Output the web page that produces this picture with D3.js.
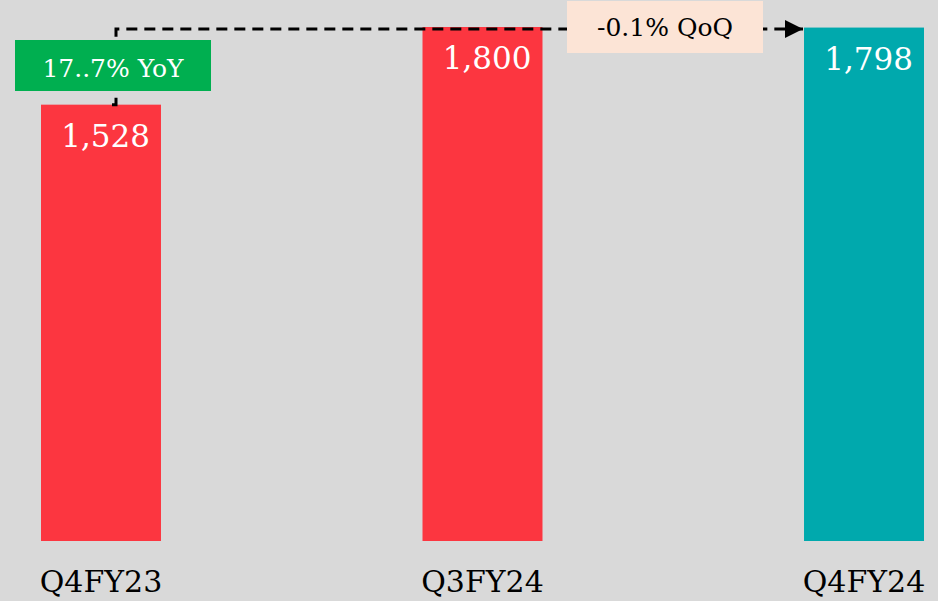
<!DOCTYPE html>
<html>
<head>
<meta charset="utf-8">
<script src="https://cdn.jsdelivr.net/npm/d3@7"></script>
<style>
  html, body { margin: 0; padding: 0; background: #d9d9d9; }
  svg { display: block; font-family: "DejaVu Serif", serif; }
</style>
</head>
<body>
<div id="chart"></div>
<script>
//Chart data
var categories = ["Q4FY23", "Q3FY24", "Q4FY24"];
var values = [1528, 1800, 1798];
var barColors = ["#fc3640", "#fc3640", "#00a9ad"];

//Growth callouts
var yoyLabel = "17..7% YoY";
var qoqLabel = "-0.1% QoQ";

var width = 938, height = 601;

var svg = d3.select("#chart").append("svg")
  .attr("width", width)
  .attr("height", height);

svg.append("rect").attr("width", width).attr("height", height).attr("fill", "#d9d9d9");

//Scales
var x = d3.scaleBand()
  .domain(categories)
  .range([41, 924])
  .paddingInner(0.6855)
  .paddingOuter(0);

var y = d3.scaleLinear()
  .domain([0, 1800])
  .range([541, 27]);

var data = categories.map(function(c, i) { return {cat: c, val: values[i], color: barColors[i]}; });

//Bars
svg.selectAll(".bar").data(data).enter().append("rect")
  .attr("class", "bar")
  .attr("x", function(d) { return x(d.cat); })
  .attr("y", function(d) { return y(d.val); })
  .attr("width", x.bandwidth())
  .attr("height", function(d) { return y(0) - y(d.val); })
  .attr("fill", function(d) { return d.color; });

//Value labels inside the bars (right aligned)
svg.selectAll(".val").data(data).enter().append("text")
  .attr("class", "val")
  .attr("x", function(d) { return x(d.cat) + x.bandwidth() - 11; })
  .attr("y", function(d) { return y(d.val) + 42; })
  .attr("text-anchor", "end")
  .attr("fill", "#ffffff")
  .attr("font-size", 31)
  .text(function(d) { return d3.format(",")(d.val); });

//Category axis (labels only)
var xAxis = svg.append("g")
  .attr("transform", "translate(0," + y(0) + ")")
  .call(d3.axisBottom(x).tickSize(0).tickPadding(0));
xAxis.select(".domain").remove();
xAxis.selectAll("text")
  .attr("dy", null)
  .attr("y", 51)
  .attr("fill", "#000")
  .attr("font-family", "DejaVu Serif")
  .attr("font-size", 30);

//Arrow marker
svg.append("defs").append("marker")
  .attr("id", "arrow")
  .attr("viewBox", "0 0 10 10")
  .attr("refX", 10).attr("refY", 5)
  .attr("markerWidth", 6).attr("markerHeight", 6)
  .attr("markerUnits", "strokeWidth")
  .attr("orient", "auto")
  .append("path").attr("d", "M0,0 L10,5 L0,10 Z").attr("fill", "#000");

//Dashed connector from first bar to last bar
var lineY = y(1800) + 2;
var xStart = x(categories[0]) + 75;
var xEnd = x(categories[2]) - 1;
var conn = d3.path();
conn.moveTo(xStart - 4, y(values[0]));
conn.lineTo(xStart, y(values[0]));
conn.lineTo(xStart, lineY);
conn.lineTo(xEnd, lineY);
svg.append("path")
  .attr("d", conn.toString())
  .attr("fill", "none")
  .attr("stroke", "#000")
  .attr("stroke-width", 3)
  .attr("stroke-dasharray", "11,7")
  .attr("marker-end", "url(#arrow)");

//YoY box
svg.append("rect")
  .attr("x", 15).attr("y", 40).attr("width", 196).attr("height", 51)
  .attr("fill", "#00af50");
svg.append("text")
  .attr("x", 113).attr("y", 77)
  .attr("text-anchor", "middle")
  .attr("fill", "#ffffff")
  .attr("font-size", 25)
  .text(yoyLabel);

//QoQ box
svg.append("rect")
  .attr("x", 567).attr("y", 1).attr("width", 196).attr("height", 52)
  .attr("fill", "#fce4d6");
svg.append("text")
  .attr("x", 665).attr("y", 36)
  .attr("text-anchor", "middle")
  .attr("fill", "#000")
  .attr("font-size", 25)
  .text(qoqLabel);
</script>
</body>
</html>
